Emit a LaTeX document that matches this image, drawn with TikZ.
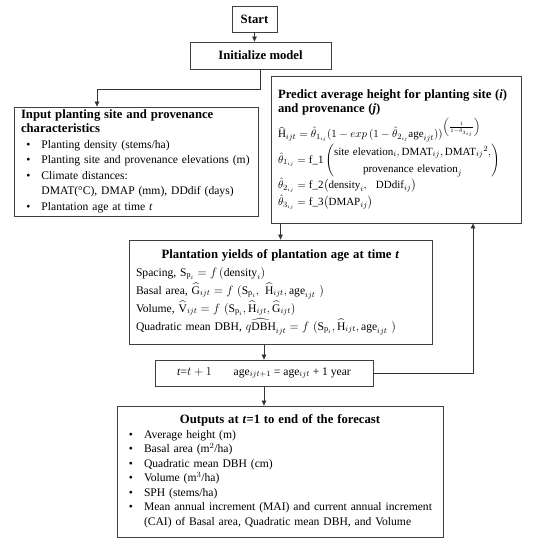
\documentclass[tikz,border=0pt]{standalone}
\usepackage{amsmath}
\usepackage{fontspec}
\setmainfont{Liberation Serif}
\usepackage{enumitem}
\usetikzlibrary{arrows.meta}
\setlist[itemize]{label=\textbullet, leftmargin=20.5pt, labelsep=11pt, topsep=0pt, partopsep=0pt, itemsep=0pt, parsep=0pt}
\newcommand{\boxtitle}[1]{{\fontsize{12.7}{14}\selectfont\bfseries #1\par}}
\begin{document}
\begin{tikzpicture}[x=1pt,y=-1pt,>={Triangle[length=5pt,width=4.5pt]},
  stagebox/.style={draw=black!75, line width=0.8pt, inner sep=0pt, font=\fontsize{12.7}{14}\selectfont\bfseries},
  textbox/.style={draw=black!75, line width=0.8pt, inner xsep=7pt, inner ysep=0pt, align=left, font=\fontsize{11.6}{15.5}\selectfont},
  link/.style={->, draw=black!80, line width=0.7pt}]
\useasboundingbox (0,0) rectangle (542,550);
\node[stagebox, minimum width=45pt, minimum height=26pt] (start) at (254.5,19) {Start};
\node[stagebox, minimum width=141pt, minimum height=27pt] (init) at (260.5,55.5) {Initialize model};
\node[textbox, text width=230pt, minimum height=109pt] (input) at (136,161.5) {\boxtitle{Input planting site and provenance\newline characteristics}
\begin{itemize}
\item Planting density (stems/ha)
\item Planting site and provenance elevations (m)
\item Climate distances:\\DMAT(°C), DMAP (mm), DDdif (days)
\item Plantation age at time \textit{t}
\end{itemize}};
\node[textbox, text width=236pt, minimum height=147pt, font=\fontsize{11}{17}\selectfont] (predict) at (396,149.5) {\boxtitle{Predict average height for planting site (\textit{i})\newline and provenance (\textit{j})}
\vspace{2pt}
\mbox{$\widehat{\mathrm{H}}_{ijt}=\hat{\theta}_{1_{ij}}(1-exp\,(1-\hat{\theta}_{2_{ij}}\mathrm{age}_{ijt}))^{\left(\frac{1}{1-\hat{\theta}_{3_{ij}}}\right)}$}\par
\mbox{$\hat{\theta}_{1_{ij}}=\text{f\_1}\left(\begin{array}{@{}c@{}}\text{site elevation}_i,\text{DMAT}_{ij},{\text{DMAT}_{ij}}^2,\\ \text{provenance elevation}_j\end{array}\right)$}\par
\mbox{$\hat{\theta}_{2_{ij}}=\text{f\_2}\bigl(\text{density}_i,\ \ \text{DDdif}_{ij}\bigr)$}\par
\mbox{$\hat{\theta}_{3_{ij}}=\text{f\_3}\bigl(\text{DMAP}_{ij}\bigr)$}};
\node[textbox, text width=289pt, minimum height=104pt, font=\fontsize{11.6}{18}\selectfont] (yields) at (280.5,292) {{\centering\boxtitle{Plantation yields of plantation age at time \textit{t}}}
Spacing, $\mathrm{S}_{\mathrm{p}_i}=f\,(\text{density}_i)$\par
Basal area, $\widehat{\mathrm{G}}_{ijt}=f\ (\mathrm{S}_{\mathrm{p}_i},\ \widehat{\mathrm{H}}_{ijt},\text{age}_{ijt}\ )$\par
Volume, $\widehat{\mathrm{V}}_{ijt}=f\ (\mathrm{S}_{\mathrm{p}_i},\widehat{\mathrm{H}}_{ijt},\widehat{\mathrm{G}}_{ijt})$\par
Quadratic mean DBH, $\widehat{q\mathrm{DBH}}_{ijt}=f\ (\mathrm{S}_{\mathrm{p}_i},\widehat{\mathrm{H}}_{ijt},\text{age}_{ijt}\ )$\par
\vspace*{8pt}};
\node[stagebox, font=\fontsize{11.6}{15}\selectfont, minimum width=218pt, minimum height=26pt] (tstep) at (264,373) {\textit{t}=$t+1$\hspace{22pt}age$_{ijt+1}$ = age$_{ijt}$ + 1 year};
\node[textbox, inner xsep=5pt, text width=316pt, minimum height=131pt, font=\fontsize{11.6}{14.5}\selectfont] (outputs) at (280,471.5) {{\centering\boxtitle{Outputs at \textit{t}=1 to end of the forecast}}
\begin{itemize}[leftmargin=22pt]
\item Average height (m)
\item Basal area (m$^2$/ha)
\item Quadratic mean DBH (cm)
\item Volume (m$^3$/ha)
\item SPH (stems/ha)
\item \mbox{Mean annual increment (MAI) and current annual increment}\\(CAI) of Basal area, Quadratic mean DBH, and Volume
\end{itemize}};
\coordinate (bend) at (97,89);
\coordinate (loop) at (473,373);
\draw[link] (start.south) -- (start.south |- init.north);
\draw[link] (init.south) |- (bend) -- (bend |- input.north);
\draw[link] (predict.south -| yields.north) -- (yields.north);
\draw[link] (yields.south -| tstep.north) -- (tstep.north);
\draw[link] (tstep.south) -- (tstep.south |- outputs.north);
\draw[link] (tstep.east) -- (loop) -- (loop |- predict.south);
\end{tikzpicture}
\end{document}
